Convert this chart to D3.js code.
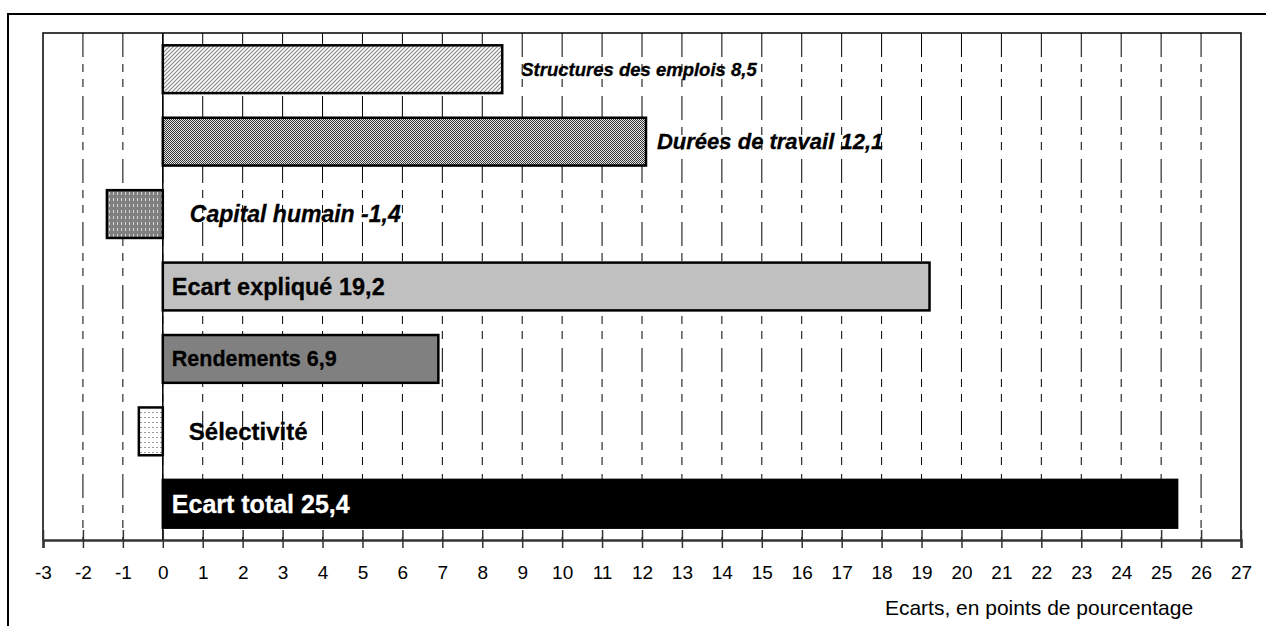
<!DOCTYPE html>
<html>
<head>
<meta charset="utf-8">
<script src="https://cdn.jsdelivr.net/npm/d3@7"></script>
<style>
  body { margin: 0; background: #fff; }
  svg text { font-family: "Liberation Sans", Arial, sans-serif; }
</style>
</head>
<body>
<div id="chart"></div>
<script>
// Data
const categories = ["Structures des emplois", "Durées de travail", "Capital humain",
                    "Ecart expliqué", "Rendements", "Sélectivité", "Ecart total"];
const values = [8.5, 12.1, -1.4, 19.2, 6.9, -0.6, 25.4];
const labels = ["Structures des emplois 8,5", "Durées de travail 12,1", "Capital humain -1,4",
                "Ecart expliqué 19,2", "Rendements 6,9", "Sélectivité", "Ecart total 25,4"];
const tickValues = d3.range(-3, 28);

const width = 1266, height = 626;
const margin = {left: 43, right: 24, top: 33, bottom: 86};

const svg = d3.select("#chart").append("svg")
    .attr("width", width).attr("height", height);

// Patterns
const defs = svg.append("defs");
const hatch = defs.append("pattern").attr("id", "hatch")
    .attr("patternUnits", "userSpaceOnUse").attr("width", 4).attr("height", 4);
hatch.append("rect").attr("width", 4).attr("height", 4).attr("fill", "#fff");
hatch.append("path").attr("d", "M-1,1 l2,-2 M0,4 l4,-4 M3,5 l2,-2")
    .attr("stroke", "#888").attr("stroke-width", 1.2);

const checker = defs.append("pattern").attr("id", "checker")
    .attr("patternUnits", "userSpaceOnUse").attr("width", 2).attr("height", 2);
checker.append("rect").attr("width", 2).attr("height", 2).attr("fill", "#e8e8e8");
checker.append("rect").attr("width", 1).attr("height", 1).attr("fill", "#333");
checker.append("rect").attr("x", 1).attr("y", 1).attr("width", 1).attr("height", 1).attr("fill", "#333");

const vdash = defs.append("pattern").attr("id", "vdash")
    .attr("patternUnits", "userSpaceOnUse").attr("width", 4).attr("height", 6);
vdash.append("rect").attr("width", 4).attr("height", 6).attr("fill", "#808080");
vdash.append("rect").attr("x", 1).attr("y", 0).attr("width", 1).attr("height", 3).attr("fill", "#d8d8d8");

const dots = defs.append("pattern").attr("id", "dots")
    .attr("patternUnits", "userSpaceOnUse").attr("width", 4).attr("height", 5);
dots.append("rect").attr("width", 4).attr("height", 5).attr("fill", "#fff");
dots.append("rect").attr("x", 0).attr("y", 2).attr("width", 2).attr("height", 1).attr("fill", "#999");

const fills = ["url(#hatch)", "url(#checker)", "url(#vdash)", "#c0c0c0", "#808080", "url(#dots)", "#000"];
const textColors = ["#000", "#000", "#000", "#000", "#000", "#000", "#fff"];
const italic = [true, true, true, false, false, false, false];
const fontSizes = [18.5, 22, 23, 23.5, 21.5, 24, 25];

// Scales
const x = d3.scaleLinear().domain([-3, 27]).range([margin.left, width - margin.right - 1]);
const y = d3.scaleBand().domain(categories)
    .range([margin.top, height - margin.bottom]).paddingInner(0.34).paddingOuter(0.17);

// Outer frame
svg.append("path")
    .attr("d", `M8,${height + 2} V14 H${width + 2}`)
    .attr("fill", "none").attr("stroke", "#000").attr("stroke-width", 2);

// Grid
svg.append("g").selectAll("line")
    .data(tickValues.slice(1, -1))
    .join("line")
    .attr("x1", d => x(d)).attr("x2", d => x(d))
    .attr("y1", margin.top).attr("y2", height - margin.bottom)
    .attr("stroke", "#000").attr("stroke-width", 1)
    .attr("stroke-dasharray", "24,7,8,7,8,9");

// Plot border
svg.append("path")
    .attr("d", `M${x(-3)},${height - margin.bottom} V${margin.top} H${x(27)} V${height - margin.bottom}`)
    .attr("fill", "none").attr("stroke", "#000").attr("stroke-width", 1.5);

// Bars
svg.append("g").selectAll("rect")
    .data(values)
    .join("rect")
    .attr("x", d => x(Math.min(0, d)))
    .attr("y", (d, i) => y(categories[i]))
    .attr("width", d => Math.abs(x(d) - x(0)))
    .attr("height", y.bandwidth())
    .attr("fill", (d, i) => fills[i])
    .attr("stroke", "#000").attr("stroke-width", 2.5);

// Zero line
svg.append("line")
    .attr("x1", x(0)).attr("x2", x(0))
    .attr("y1", margin.top).attr("y2", height - margin.bottom)
    .attr("stroke", "#000").attr("stroke-width", 1.5);

// Bar labels
const labelX = [x(8.5) + 19, x(12.1) + 11, x(0) + 27, x(0) + 9, x(0) + 9, x(0) + 26, x(0) + 9];
svg.append("g").selectAll("text")
    .data(labels)
    .join("text")
    .attr("x", (d, i) => labelX[i])
    .attr("y", (d, i) => y(categories[i]) + y.bandwidth() / 2)
    .attr("dy", "0.35em")
    .attr("font-size", (d, i) => fontSizes[i])
    .attr("font-weight", "bold")
    .attr("font-style", (d, i) => italic[i] ? "italic" : "normal")
    .attr("fill", (d, i) => textColors[i])
    .attr("stroke", (d, i) => textColors[i]).attr("stroke-width", 0.3)
    .text(d => d);

// Axis
const axis = svg.append("g")
    .attr("transform", `translate(0,${height - margin.bottom})`)
    .call(d3.axisBottom(x).tickValues(tickValues).tickSize(8).tickPadding(18).tickFormat(d => String(d)));
axis.select(".domain").attr("stroke", "#333").attr("stroke-width", 2.5);
axis.selectAll(".tick line").attr("y1", -10).attr("stroke", "#333").attr("stroke-width", 1.5);
axis.selectAll(".tick text")
    .attr("font-size", 19).attr("fill", "#000")
    .attr("font-family", "'Liberation Sans', Arial, sans-serif");

// Axis title
svg.append("text")
    .attr("x", 1039).attr("y", 615)
    .attr("text-anchor", "middle")
    .attr("font-size", 21)
    .text("Ecarts, en points de pourcentage");
</script>
</body>
</html>
